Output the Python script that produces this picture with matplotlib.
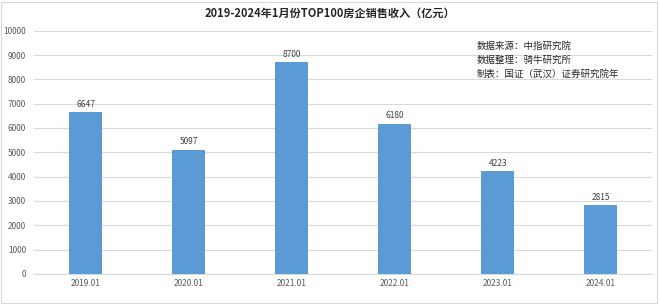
import matplotlib.pyplot as plt

plt.rcParams['font.family'] = ['Noto Sans CJK SC', 'DejaVu Sans']

# data
months = ['2019.01', '2020.01', '2021.01', '2022.01', '2023.01', '2024.01']
sales = [6647, 5097, 8700, 6180, 4223, 2815]
yticks = [0, 1000, 2000, 3000, 4000, 5000, 6000, 7000, 8000, 9000, 10000]

fig = plt.figure(figsize=(6.6, 3.04), dpi=100)
ax = fig.add_axes([0.052, 0.099, 0.936, 0.8])

x = range(len(months))
ax.bar(x, sales, width=0.32, color='#5b9bd5', zorder=3)
for i, v in enumerate(sales):
    ax.text(i, v + 150, str(v), ha='center', va='bottom', fontsize=6, color='#404040')

ax.set_xlim(-0.5, len(months) - 0.5)
ax.set_ylim(0, 10000)
ax.set_yticks(yticks)
ax.set_xticks(list(x))
ax.set_xticklabels(months)
ax.tick_params(axis='both', length=0, labelsize=6, labelcolor='#595959')
ax.tick_params(axis='y', pad=6)
ax.grid(axis='y', color='#d9d9d9', linewidth=0.8, zorder=0)
for s in ['top', 'right', 'left']:
    ax.spines[s].set_visible(False)
ax.spines['bottom'].set_color('#d9d9d9')

fig.text(0.5, 0.955, '2019-2024年1月份TOP100房企销售收入（亿元）',
         ha='center', va='center', fontsize=8, fontweight='bold', color='#262626')

notes = ['数据来源：中指研究院', '数据整理：骑牛研究所', '制表：国证（武汉）证券研究院年']
for i, t in enumerate(notes):
    fig.text(0.722, 0.848 - i * 0.045, t, ha='left', va='center', fontsize=6.8, color='#262626')

# outer frame
fig.patches.append(plt.Rectangle((0.002, 0.004), 0.994, 0.99, transform=fig.transFigure,
                                 fill=False, edgecolor='#d9d9d9', linewidth=0.8))

plt.savefig('out.png', dpi=100)
